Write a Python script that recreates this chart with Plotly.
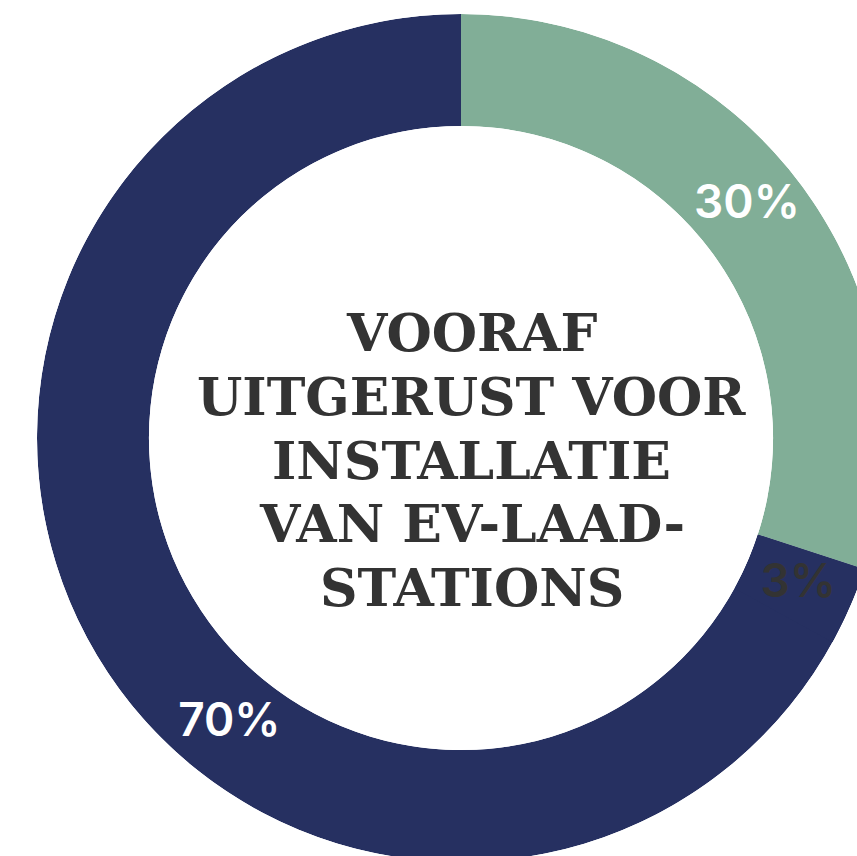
import plotly.graph_objects as go

# Share of buildings, in percent
labels = ["Ja", "Gedeeltelijk", "Nee"]
shares = [30, 3, 70]
slice_colors = ["#81ae97", "#263061", "#263061"]
text_colors = ["#ffffff", "#333333", "#ffffff"]
label_angles = [51, 113.6, 219]  # angular position of each percentage label

title_lines = ["VOORAF", "UITGERUST VOOR", "INSTALLATIE", "VAN EV-LAAD-", "STATIONS"]

deg = [s / 100 * 360 for s in shares]
# "Ja" starts at 12 o'clock, "Nee" closes the ring back to 12 o'clock,
# "Gedeeltelijk" follows directly after "Ja".
starts = [0, deg[0], 360 - deg[2]]
centers = [st + d / 2 for st, d in zip(starts, deg)]

fig = go.Figure()
for i in [2, 0, 1]:
    fig.add_trace(go.Barpolar(
        r=[1], theta=[centers[i]], width=[deg[i]], base=0,
        marker=dict(color=slice_colors[i], line=dict(width=0)),
        name=labels[i], hoverinfo="skip", showlegend=False,
    ))

fig.add_trace(go.Scatterpolar(
    r=[0.5] * len(shares), theta=label_angles, mode="text",
    text=[f"{s}%" for s in shares],
    textfont=dict(family="Inter", size=46, color=text_colors, weight=600),
    textposition="middle center", hoverinfo="skip", showlegend=False,
))

# Centre title, one annotation per line for even line spacing
plot_h = 880 - 14 - 18
line_gap = 63.5
first_line_px = 334 - 14 - 1  # from top of plot area
for k, line in enumerate(title_lines):
    y_px = first_line_px + k * line_gap
    fig.add_annotation(
        x=0.5125, y=1 - y_px / plot_h, xref="paper", yref="paper",
        text=line, showarrow=False,
        font=dict(family="DejaVu Serif", size=52, color="#333333", weight="bold"),
        align="center", xanchor="center", yanchor="middle",
    )

fig.update_layout(
    width=900, height=880,
    margin=dict(l=37, r=15, t=14, b=18),
    paper_bgcolor="#ffffff",
    polar=dict(
        hole=0.736,
        bgcolor="#ffffff",
        domain=dict(x=[0, 1], y=[0, 1]),
        radialaxis=dict(range=[0, 1], visible=False),
        angularaxis=dict(rotation=90, direction="clockwise", visible=False,
                         showgrid=False, showline=False, showticklabels=False),
    ),
)

fig.write_html(
    "out.html",
    post_script="document.documentElement.style.overflow='hidden';document.body.style.overflow='hidden';",
)
